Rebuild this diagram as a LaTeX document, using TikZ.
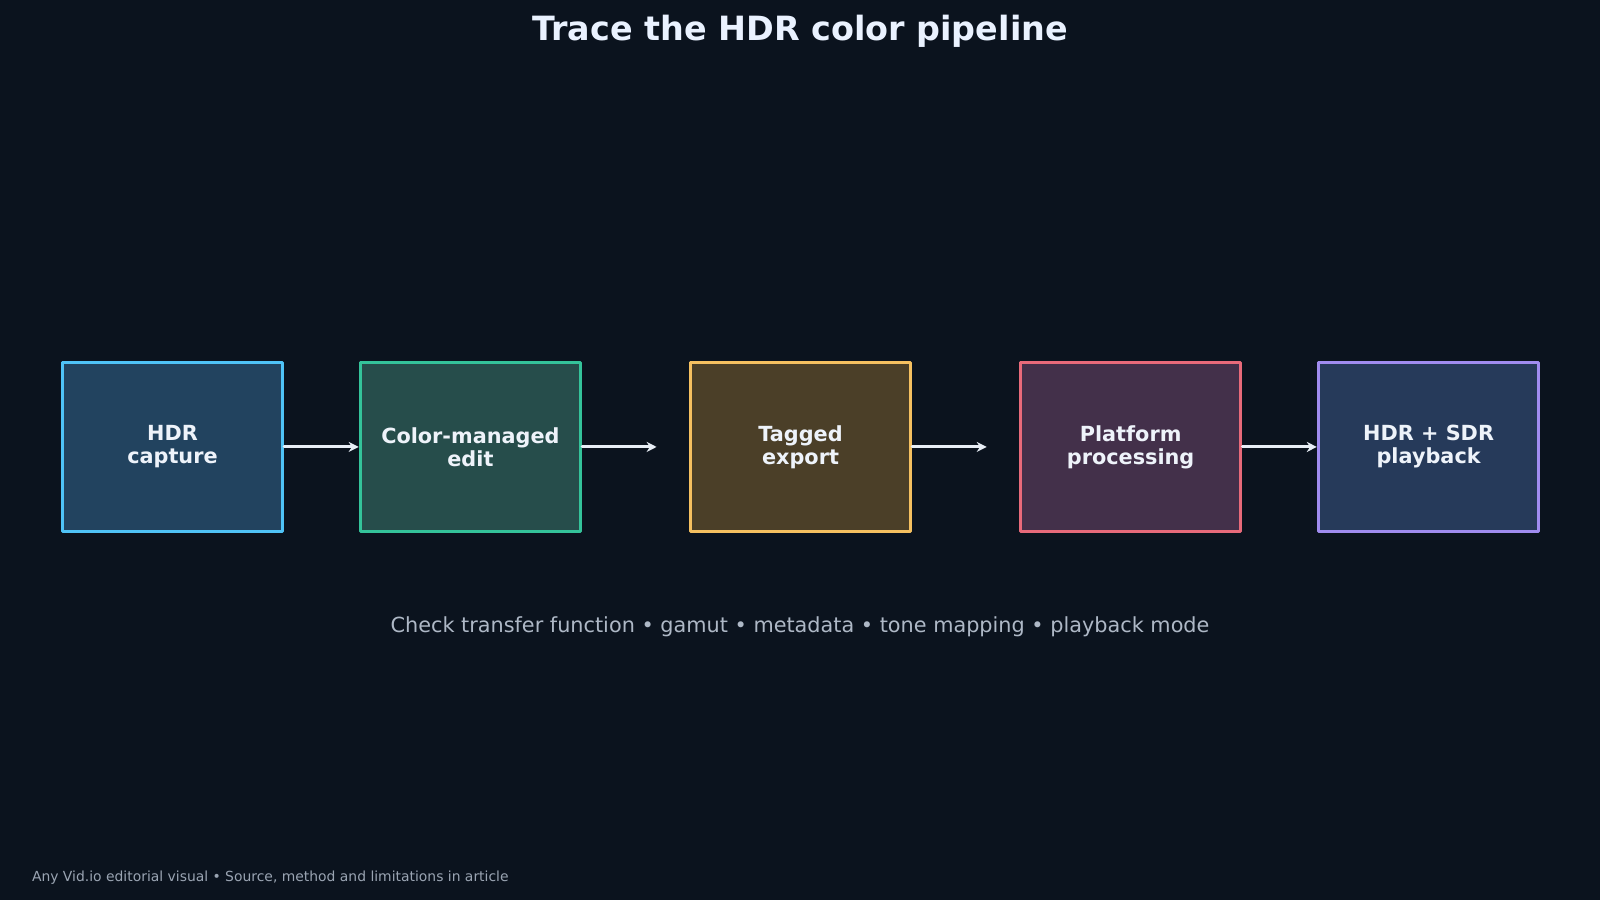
\documentclass[tikz,border=0pt]{standalone}
\usepackage{fontspec}
\setmainfont{DejaVu Sans}
\usepackage{tikz}
\usetikzlibrary{arrows.meta}
\usetikzlibrary{positioning}
\definecolor{bgdark}{HTML}{0B131E}
\definecolor{titletext}{HTML}{EAF2FF}
\definecolor{boxtext}{HTML}{EEF3FA}
\definecolor{subtext}{HTML}{AEB8C6}
\definecolor{foottext}{HTML}{9AA4B2}
\definecolor{arrowcol}{HTML}{E8EEF6}
\definecolor{capfill}{HTML}{22435F}
\definecolor{capline}{HTML}{4FC3F7}
\definecolor{editfill}{HTML}{264D4B}
\definecolor{editline}{HTML}{34C39A}
\definecolor{expfill}{HTML}{4B3F28}
\definecolor{expline}{HTML}{F5C060}
\definecolor{platfill}{HTML}{43304A}
\definecolor{platline}{HTML}{E86A7A}
\definecolor{playfill}{HTML}{263A5A}
\definecolor{playline}{HTML}{A08CF0}
\tikzset{
  stage/.style={draw, line width=1.5pt, minimum width=110.2pt, minimum height=84.7pt,
    text=boxtext, align=center, font=\fontsize{10.4}{11.5}\selectfont\bfseries},
  flow/.style={line width=1.5pt, color=arrowcol, -{Stealth[length=5pt, width=5pt]}}
}

\begin{document}
\begin{tikzpicture}[line cap=round,line join=round, x=0.5102pt,y=0.5102pt]
\fill[bgdark] (0,0) rectangle (1568,882);
\useasboundingbox (0,0) rectangle (1568,882);
\node[text=titletext, font=\fontsize{16.7}{20}\selectfont\bfseries] (title) at (784,851) {Trace the HDR color pipeline};
% pipeline stages
\node[stage, fill=capfill, draw=capline] (capture) at (169,444) {HDR\\capture};
\node[stage, fill=editfill, draw=editline] (edit) at (461,444) {Color-managed\\edit};
\node[stage, fill=expfill, draw=expline] (export) at (784.5,444) {Tagged\\export};
\node[stage, fill=platfill, draw=platline] (platform) at (1108,444) {Platform\\processing};
\node[stage, fill=playfill, draw=playline] (playback) at (1400,444) {HDR + SDR\\playback};
% arrow ends
\coordinate (e1) at ([xshift=37.25pt]capture.east);
\coordinate (e2) at ([xshift=37.25pt]edit.east);
\coordinate (e3) at ([xshift=37.25pt]export.east);
\coordinate (e4) at ([xshift=37.25pt]platform.east);
\draw[flow] (capture.east) -- (e1);
\draw[flow] (edit.east) -- (e2);
\draw[flow] (export.east) -- (e3);
\draw[flow] (platform.east) -- (e4);
\node[text=subtext, font=\fontsize{10.4}{12}\selectfont] (checks) at (784,268) {Check transfer function • gamut • metadata • tone mapping • playback mode};
\node[text=foottext, font=\fontsize{6.95}{8.5}\selectfont, anchor=west, inner sep=0pt] (footer) at (31,22) {Any Vid.io editorial visual • Source, method and limitations in article};
\end{tikzpicture}
\end{document}
